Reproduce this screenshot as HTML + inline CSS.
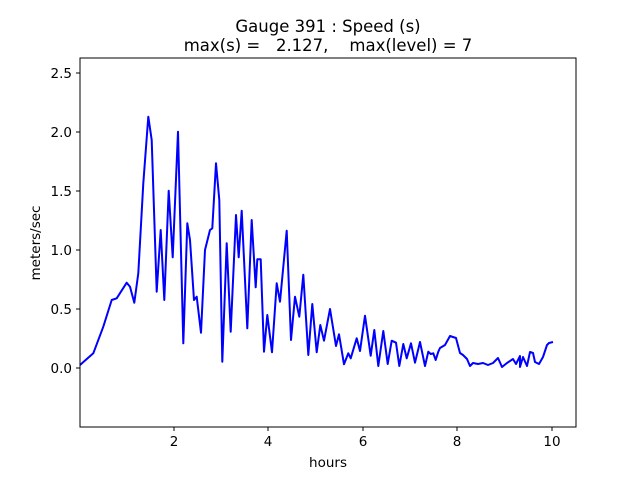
<!DOCTYPE html>
<html><head><meta charset="utf-8"><style>body{margin:0;background:#fff}svg text{font-family:"DejaVu Sans","Liberation Sans",sans-serif;font-size:13.5px;fill:#000}svg text.t{font-size:16.5px}</style></head><body>
<svg width="640" height="480" xmlns="http://www.w3.org/2000/svg">
<rect width="640" height="480" fill="#fff"/>
<text class="t" x="328" y="32" text-anchor="middle">Gauge 391 : Speed (s)</text>
<text class="t" x="328" y="51" text-anchor="middle" xml:space="preserve">max(s) =   2.127,    max(level) = 7</text>
<polyline fill="none" stroke="#0000ff" stroke-width="2" stroke-linejoin="round" points="80,365 93.3,353.3 103.3,326.7 111.7,300 116.7,298.3 126.7,282.7 130,286.7 134.3,302.7 138.3,273.3 143.3,183.3 148.3,116.7 151.7,140 156.7,291.7 160.7,230 164.3,300 168.7,190.7 172.7,257.3 178,131.7 183.3,343.3 187.3,223.3 190,240 194,300 196.7,296.7 201,332.7 205,250 210,230 212.3,228.3 216,163.3 219.3,200 222.3,361.7 226.7,243.3 230.7,331.7 236,215 238.7,257.3 241.7,210.7 247.3,328.3 251.7,220 255.7,287.3 257.3,259.3 260.7,259.3 264,351.7 267.3,315 272,352.3 276.7,283.3 280,301.7 286.7,230.7 291,340 295,296.7 299.3,316.7 303.3,274.7 308.3,355 312.3,304 316.7,352.3 320.3,325 324,340.7 330,309 336,346 339,334.3 344,364.3 348.3,353.3 350.7,358.3 356.7,338.3 360,351 365,315.7 370.7,355.7 374.3,330 378.3,366 383.3,331 387.7,364 391.7,340.7 396,342.7 399.3,366 403.3,344 406.7,358.3 411,343.3 415,362.7 420,342 425,366 428.3,351.7 430.7,354 433.3,353.3 435.7,360 438.3,351.7 440,348 445,345 450,336 456,338 460,353 463,355 467,359 470,366 473,363 478,364 483,363 488,365 493,363 498,358 502,367 507,363 513,359 516,364 520,356 520,367 523,357 527,366 530,352 533,353 535,362 539,364 543,357 547,345 549,343 553,342"/>
<rect x="80" y="58" width="496" height="369" fill="none" stroke="#000" stroke-width="1"/>
<g stroke="#000">
<line x1="174" y1="427" x2="174" y2="431"/><line x1="268" y1="427" x2="268" y2="431"/><line x1="363" y1="427" x2="363" y2="431"/><line x1="457" y1="427" x2="457" y2="431"/><line x1="552" y1="427" x2="552" y2="431"/>
<line x1="76" y1="368" x2="80" y2="368"/><line x1="76" y1="309" x2="80" y2="309"/><line x1="76" y1="250" x2="80" y2="250"/><line x1="76" y1="191" x2="80" y2="191"/><line x1="76" y1="132" x2="80" y2="132"/><line x1="76" y1="73" x2="80" y2="73"/>
</g>
<g text-anchor="middle"><text x="174" y="446">2</text><text x="268" y="446">4</text><text x="363" y="446">6</text><text x="457" y="446">8</text><text x="552" y="446">10</text><text x="328" y="467">hours</text></g>
<g text-anchor="end"><text x="72" y="373">0.0</text><text x="72" y="314">0.5</text><text x="72" y="255">1.0</text><text x="72" y="196">1.5</text><text x="72" y="137">2.0</text><text x="72" y="78">2.5</text></g>
<text transform="translate(40,243) rotate(-90)" text-anchor="middle">meters/sec</text>
</svg>
</body></html>
